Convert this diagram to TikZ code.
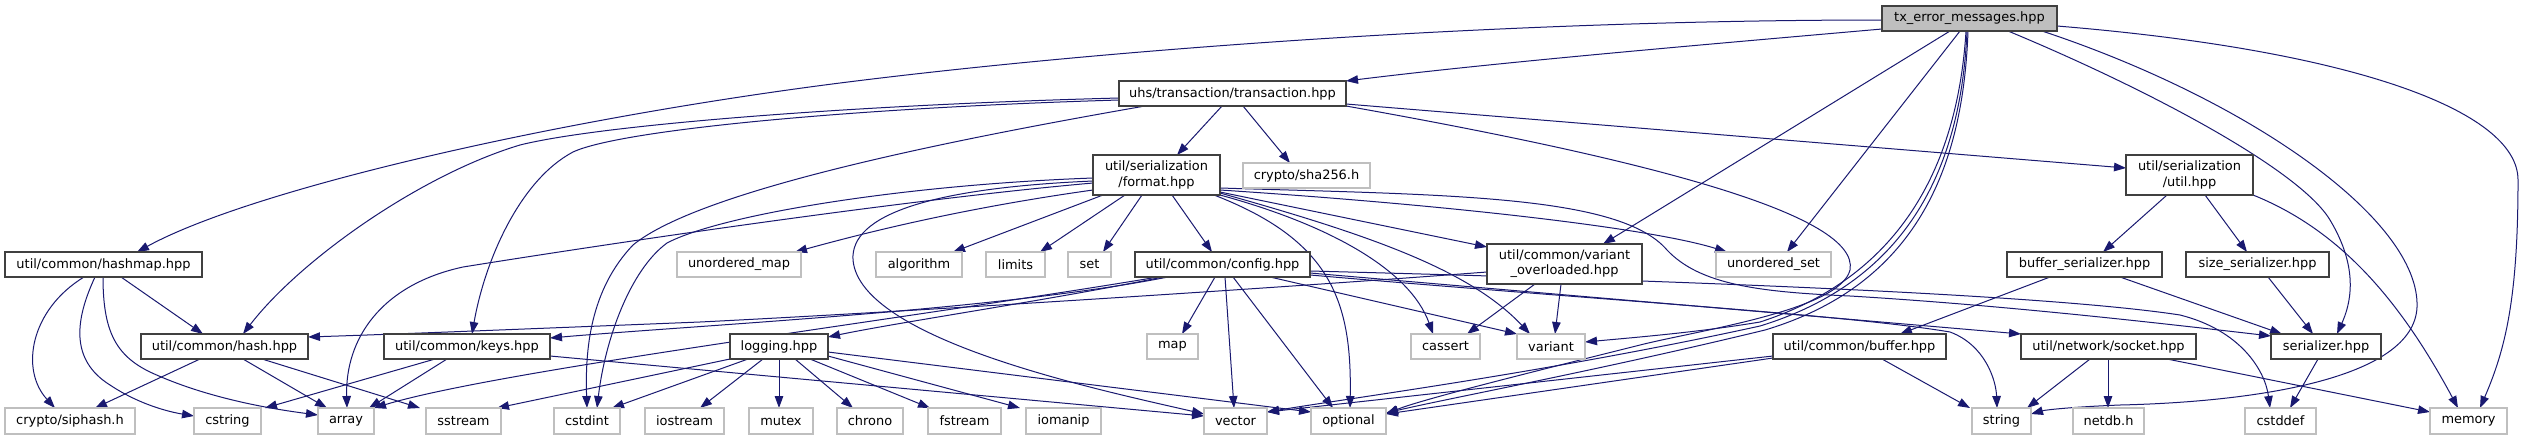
\documentclass[tikz,border=0pt]{standalone}
\usepackage{fontspec}
\setmainfont{DejaVu Sans}
\usetikzlibrary{arrows.meta}
\definecolor{edgec}{HTML}{191970}
\definecolor{projb}{HTML}{404040}
\definecolor{sysb}{HTML}{BFBFBF}
\definecolor{rootf}{HTML}{BFBFBF}
\pgfdeclarelayer{bg}
\pgfsetlayers{bg,main}
\newcommand\bx[7]{\node[#7, minimum width={(#3-#2)*0.75pt}, minimum height={(#5-#4)*0.75pt}] (#1) at ({(#2+#3)/2},{(#4+#5)/2}) {#6};}
\tikzset{
  nd/.style={inner sep=0pt, outer sep=0pt, align=center, text=black, fill=white,
     font=\fontsize{9.7}{11.4}\selectfont},
  proj/.style={nd, draw=projb, line width=1pt},
  sys/.style={nd, draw=sysb, line width=1pt},
  root/.style={nd, draw=projb, fill=rootf, line width=1pt},
  e/.style={draw=edgec, line width=0.75pt, -{Triangle[length=9pt,width=6.4pt]}}
}
\begin{document}
\begin{tikzpicture}[x=0.75pt,y=-0.75pt]
\useasboundingbox (0,0) rectangle (2525,440);
% nodes
\bx{tx}{1882}{2057}{6}{31}{tx\_error\_messages.hpp}{root}
\bx{transaction}{1119}{1346}{81}{106}{uhs/transaction/transaction.hpp}{proj}
\bx{format}{1093}{1220}{155}{195}{util/serialization\\/format.hpp}{proj}
\bx{sha}{1243}{1370}{163}{188}{crypto/sha256.h}{sys}
\bx{util}{2126}{2253}{155}{195}{util/serialization\\/util.hpp}{proj}
\bx{hashmap}{5}{202}{252}{277}{util/common/hashmap.hpp}{proj}
\bx{umap}{677}{801}{252}{277}{unordered\_map}{sys}
\bx{algorithm}{876}{962}{252}{277}{algorithm}{sys}
\bx{limits}{986}{1045}{252}{277}{limits}{sys}
\bx{set}{1068}{1111}{252}{277}{set}{sys}
\bx{config}{1135}{1310}{252}{277}{util/common/config.hpp}{proj}
\bx{varov}{1487}{1642}{244}{284}{util/common/variant\\\_overloaded.hpp}{proj}
\bx{uset}{1716}{1831}{252}{277}{unordered\_set}{sys}
\bx{bufser}{2007}{2162}{252}{277}{buffer\_serializer.hpp}{proj}
\bx{sizeser}{2186}{2329}{252}{277}{size\_serializer.hpp}{proj}
\bx{hash}{141}{308}{334}{359}{util/common/hash.hpp}{proj}
\bx{keys}{384}{550}{334}{359}{util/common/keys.hpp}{proj}
\bx{logging}{730}{828}{334}{359}{logging.hpp}{proj}
\bx{map}{1147}{1198}{334}{359}{map}{sys}
\bx{cassert}{1411}{1480}{334}{359}{cassert}{sys}
\bx{variant}{1517}{1585}{334}{359}{variant}{sys}
\bx{buffer}{1773}{1946}{334}{359}{util/common/buffer.hpp}{proj}
\bx{socket}{2021}{2196}{334}{359}{util/network/socket.hpp}{proj}
\bx{serializer}{2271}{2381}{334}{359}{serializer.hpp}{proj}
\bx{siphash}{5}{135}{408}{434}{crypto/siphash.h}{sys}
\bx{cstring}{194}{261}{408}{434}{cstring}{sys}
\bx{array}{318}{374}{408}{434}{array}{sys}
\bx{sstream}{426}{501}{408}{434}{sstream}{sys}
\bx{cstdint}{554}{620}{408}{434}{cstdint}{sys}
\bx{iostream}{645}{724}{408}{434}{iostream}{sys}
\bx{mutex}{749}{813}{408}{434}{mutex}{sys}
\bx{chrono}{837}{903}{408}{434}{chrono}{sys}
\bx{fstream}{928}{1001}{408}{434}{fstream}{sys}
\bx{iomanip}{1026}{1101}{408}{434}{iomanip}{sys}
\bx{vector}{1204}{1267}{408}{434}{vector}{sys}
\bx{optional}{1311}{1386}{408}{434}{optional}{sys}
\bx{string}{1972}{2031}{408}{434}{string}{sys}
\bx{netdb}{2073}{2144}{408}{434}{netdb.h}{sys}
\bx{cstddef}{2245}{2316}{408}{434}{cstddef}{sys}
\bx{memory}{2430}{2507}{408}{434}{memory}{sys}
\begin{pgfonlayer}{bg}
\fill[white] (0,0) rectangle (2525,440);
% tx
\draw[e] (tx.west |- 0,20) .. controls (1500,20) and (1100,50) .. (840,83) .. controls (550,120) and (250,190) .. (137,0 |- hashmap.north);
\draw[e] (tx.west |- 0,29) .. controls (1700,45) and (1500,62) .. (transaction.north east);
\draw[e] (1950,0 |- tx.south) -- (1603,0 |- varov.north);
\draw[e] (1960,0 |- tx.south) -- (1787,0 |- uset.north);
\draw[e] (1966,0 |- tx.south) .. controls (1958,160) and (1905,275) .. (1760,322) .. controls (1700,332) and (1640,337) .. (variant.east |- 0,342);
\draw[e] (1967,0 |- tx.south) .. controls (1961,165) and (1910,280) .. (1760,326) .. controls (1550,372) and (1350,398) .. (vector.east |- 0,412);
\draw[e] (1968,0 |- tx.south) .. controls (1963,170) and (1915,285) .. (1765,330) .. controls (1600,370) and (1450,398) .. (optional.east |- 0,413);
\draw[e] (2042,0 |- tx.south) .. controls (2250,100) and (2420,220) .. (2417,307) .. controls (2414,380) and (2250,402) .. (2120,405) .. controls (2070,407) and (2045,410) .. (string.east |- 0,414);
\draw[e] (2008,0 |- tx.south) .. controls (2150,90) and (2300,170) .. (2330,220) .. controls (2360,270) and (2350,305) .. (2337,0 |- serializer.north);
\draw[e] (tx.east |- 0,26) .. controls (2350,50) and (2518,110) .. (2518,180) .. controls (2518,300) and (2505,350) .. (2480,0 |- memory.north);
% transaction
\draw[e] (1222,0 |- transaction.south) -- (1177,0 |- format.north);
\draw[e] (1243,0 |- transaction.south) -- (1290,0 |- sha.north);
\draw[e] (transaction.west |- 0,98) .. controls (850,105) and (600,125) .. (520,145) .. controls (420,175) and (300,260) .. (243,0 |- hash.north);
\draw[e] (transaction.west |- 0,100) .. controls (850,108) and (620,130) .. (573,152) .. controls (520,180) and (485,260) .. (472,0 |- keys.north);
\draw[e] (1145,0 |- transaction.south) .. controls (950,140) and (700,190) .. (633,245) .. controls (590,290) and (585,350) .. (587,0 |- cstdint.north);
\draw[e] (transaction.east |- 0,104) -- (util.west |- 0,168);
\draw[e] (transaction.east |- 0,106) .. controls (1650,160) and (1860,215) .. (1850,270) .. controls (1840,310) and (1700,330) .. (1640,345) .. controls (1520,375) and (1420,400) .. (optional.east |- 0,414);
% format
\draw[e] (format.west |- 0,190) .. controls (950,210) and (850,237) .. (795,0 |- umap.north);
\draw[e] (format.west |- 0,183) .. controls (900,200) and (600,245) .. (463,267) .. controls (380,285) and (345,340) .. (347,0 |- array.north);
\draw[e] (format.west |- 0,178) .. controls (900,185) and (720,215) .. (667,243) .. controls (630,270) and (605,340) .. (597,0 |- cstdint.north);
\draw[e] (format.west |- 0,181) .. controls (930,188) and (850,215) .. (853,260) .. controls (860,340) and (1100,390) .. (vector.west |- 0,414);
\draw[e] (1103,0 |- format.south) -- (953,0 |- algorithm.north);
\draw[e] (1125,0 |- format.south) -- (1040,0 |- limits.north);
\draw[e] (1142,0 |- format.south) -- (1103,0 |- set.north);
\draw[e] (1172,0 |- format.south) -- (1212,0 |- config.north);
\draw[e] (format.east |- 0,192) -- (varov.west |- 0,247);
\draw[e] (format.south east) .. controls (1330,225) and (1410,270) .. (1433,0 |- cassert.north);
\draw[e] (format.east |- 0,193) .. controls (1370,235) and (1470,270) .. (1530,0 |- variant.north);
\draw[e] (1214,0 |- format.south) .. controls (1330,240) and (1352,300) .. (1350,0 |- optional.north);
\draw[e] (format.east |- 0,190) .. controls (1450,205) and (1650,228) .. (1727,0 |- uset.north);
\draw[e] (format.east |- 0,188) .. controls (1450,195) and (1620,195) .. (1667,250) .. controls (1700,285) and (1760,292) .. (1850,296) .. controls (2000,305) and (2150,322) .. (serializer.west |- 0,336);
% config
\draw[e] (1215,0 |- config.south) -- (1182,0 |- map.north);
\draw[e] (1225,0 |- config.south) -- (1234,0 |- vector.north);
\draw[e] (1233,0 |- config.south) -- (1333,0 |- optional.north);
\draw[e] (1270,0 |- config.south) -- (variant.north west);
\draw[e] (config.east |- 0,273) -- (socket.north west);
\draw[e] (config.east |- 0,275) .. controls (1600,300) and (1850,315) .. (1950,332) .. controls (1985,345) and (1996,380) .. (1997,0 |- string.north);
\draw[e] (config.east |- 0,271) .. controls (1700,281) and (2050,295) .. (2180,315) .. controls (2240,330) and (2265,370) .. (2270,0 |- cstddef.north);
\draw[e] (1168,0 |- config.south) .. controls (1000,310) and (700,325) .. (keys.east |- 0,338);
\draw[e] (1163,0 |- config.south) .. controls (1050,300) and (900,322) .. (logging.east |- 0,337);
\draw[e] (1158,0 |- config.south) .. controls (900,320) and (500,370) .. (array.north east);
% variant_overloaded
\draw[e] (varov.west |- 0,272) .. controls (1250,290) and (900,312) .. (700,322) .. controls (500,330) and (400,334) .. (hash.east |- 0,337);
\draw[e] (1535,0 |- varov.south) -- (1467,0 |- cassert.north);
\draw[e] (1561,0 |- varov.south) -- (1555,0 |- variant.north);
% logging
\draw[e] (logging.south west) -- (497,0 |- sstream.north);
\draw[e] (748,0 |- logging.south) -- (612,0 |- cstdint.north);
\draw[e] (763,0 |- logging.south) -- (700,0 |- iostream.north);
\draw[e] (779,0 |- logging.south) -- (779,0 |- mutex.north);
\draw[e] (795,0 |- logging.south) -- (853,0 |- chrono.north);
\draw[e] (810,0 |- logging.south) -- (930,0 |- fstream.north);
\draw[e] (logging.east |- 0,356) -- (1020,0 |- iomanip.north);
\draw[e] (logging.east |- 0,352) -- (optional.west |- 0,412);
% hashmap
\draw[e] (84,0 |- hashmap.south) .. controls (30,310) and (20,370) .. (55,0 |- siphash.north);
\draw[e] (95,0 |- hashmap.south) .. controls (75,320) and (70,360) .. (110,385) .. controls (140,405) and (170,412) .. (cstring.west |- 0,416);
\draw[e] (103,0 |- hashmap.south) .. controls (103,330) and (115,355) .. (150,372) .. controls (210,400) and (280,410) .. (array.west |- 0,415);
\draw[e] (121,0 |- hashmap.south) -- (203,0 |- hash.north);
% hash
\draw[e] (200,0 |- hash.south) -- (95,0 |- siphash.north);
\draw[e] (243,0 |- hash.south) -- (327,0 |- array.north);
\draw[e] (262,0 |- hash.south) -- (420,0 |- sstream.north);
% keys
\draw[e] (435,0 |- keys.south) -- (265,0 |- cstring.north);
\draw[e] (447,0 |- keys.south) -- (369,0 |- array.north);
\draw[e] (keys.east |- 0,356) -- (vector.west |- 0,416);
% buffer
\draw[e] (1882,0 |- buffer.south) -- (1970,0 |- string.north);
\draw[e] (buffer.west |- 0,356) -- (vector.east |- 0,412);
\draw[e] (buffer.west |- 0,358) -- (optional.east |- 0,414);
% serializers
\draw[e] (2050,0 |- bufser.south) -- (1900,0 |- buffer.north);
\draw[e] (2120,0 |- bufser.south) -- (2282,0 |- serializer.north);
\draw[e] (2268,0 |- sizeser.south) -- (2313,0 |- serializer.north);
\draw[e] (2167,0 |- util.south) -- (2103,0 |- bufser.north);
\draw[e] (2205,0 |- util.south) -- (2247,0 |- sizeser.north);
\draw[e] (util.south east) .. controls (2340,230) and (2400,300) .. (2458,0 |- memory.north);
% socket
\draw[e] (2090,0 |- socket.south) -- (2027,0 |- string.north);
\draw[e] (2108,0 |- socket.south) -- (2108,0 |- netdb.north);
\draw[e] (2167,0 |- socket.south) -- (memory.west |- 0,412);
\draw[e] (2318,0 |- serializer.south) -- (2290,0 |- cstddef.north);
\end{pgfonlayer}
\end{tikzpicture}
\end{document}
